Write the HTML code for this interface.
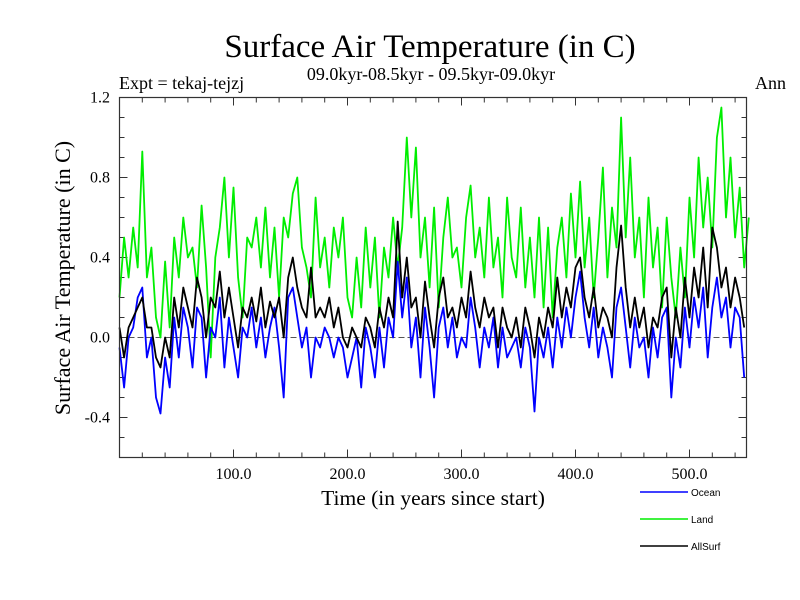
<!DOCTYPE html>
<html><head><meta charset="utf-8"><style>
body{margin:0;background:#fff;}
svg{display:block;font-family:"Liberation Serif",serif;}
</style></head><body>
<svg id="chart" width="800" height="600">
<rect width="800" height="600" fill="#fff"/>
<text x="430" y="57" font-size="33" text-anchor="middle">Surface Air Temperature (in C)</text>
<text x="431" y="80" font-size="18" text-anchor="middle">09.0kyr-08.5kyr - 09.5kyr-09.0kyr</text>
<text x="119" y="89" font-size="18">Expt = tekaj-tejzj</text>
<text x="786" y="89" font-size="18" text-anchor="end">Ann</text>
<text transform="translate(70,278) rotate(-90)" font-size="22" text-anchor="middle">Surface Air Temperature (in C)</text>
<text x="433" y="505" font-size="21.5" text-anchor="middle">Time (in years since start)</text>
<g id="axes"></g>
<g id="series"></g>
<g font-family="Liberation Sans, sans-serif" font-size="10">
<line x1="640" y1="492" x2="688" y2="492" stroke="#0000ff" stroke-width="1.5"/>
<text x="691" y="496">Ocean</text>
<line x1="640" y1="519" x2="688" y2="519" stroke="#00ee00" stroke-width="1.5"/>
<text x="691" y="523">Land</text>
<line x1="640" y1="546" x2="688" y2="546" stroke="#000" stroke-width="1.5"/>
<text x="691" y="550">AllSurf</text>
</g>
</svg>
<script>
const yearStep = 4;
const landValues = [0.2,0.5,0.3,0.55,0.35,0.93,0.3,0.45,0.1,0.0,0.38,
0.05,0.5,0.3,0.6,0.4,0.45,0.25,0.66,0.35,-0.1,0.4,
0.55,0.8,0.4,0.75,0.3,0.1,0.5,0.45,0.6,0.35,
0.65,0.3,0.55,0.2,0.6,0.5,0.72,0.8,0.45,0.35,
0.2,0.7,0.35,0.5,0.25,0.55,0.4,0.6,0.2,0.1,
0.4,0.15,0.55,0.25,0.5,0.1,0.45,0.3,0.6,0.35,
0.55,1.0,0.6,0.95,0.4,0.6,0.25,0.65,0.15,0.5,
0.7,0.4,0.45,0.25,0.6,0.76,0.4,0.55,0.3,0.7,
0.35,0.5,0.2,0.7,0.4,0.3,0.65,0.25,0.5,0.2,
0.6,0.15,0.55,0.1,0.45,0.6,0.3,0.72,0.4,0.78,
0.35,0.6,0.2,0.5,0.85,0.3,0.65,0.45,1.1,0.5,
0.9,0.4,0.6,0.2,0.7,0.35,0.55,0.15,0.6,0.3,
0.1,0.45,0.2,0.7,0.4,0.9,0.55,0.8,0.45,1.0,
1.15,0.6,0.9,0.5,0.75,0.35,0.6];
const oceanValues = [-0.05,-0.25,0.0,0.05,0.2,0.25,-0.1,0.0,-0.3,-0.38,-0.1,
-0.25,0.1,-0.1,0.15,0.05,-0.15,0.15,0.1,-0.2,0.05,
0.0,0.2,-0.15,0.1,-0.05,-0.2,0.05,0.0,0.15,-0.05,
0.1,-0.1,0.05,0.15,-0.05,-0.3,0.2,0.25,0.1,-0.05,
0.05,-0.2,0.0,-0.05,0.05,0.0,-0.1,0.0,-0.05,-0.2,
-0.1,0.0,-0.25,0.05,-0.05,-0.2,0.05,-0.15,0.1,0.0,
0.38,0.1,0.3,-0.05,0.1,-0.2,0.15,-0.05,-0.3,0.05,
0.15,-0.05,0.1,-0.1,0.0,-0.05,0.2,0.05,-0.15,0.05,
-0.05,0.1,-0.15,0.05,-0.1,-0.05,0.0,-0.15,0.05,-0.05,
-0.37,0.0,-0.1,0.05,-0.15,0.1,-0.05,0.15,0.0,0.2,
0.33,0.1,-0.05,0.15,-0.1,0.05,-0.05,-0.2,0.15,0.25,
0.05,-0.15,0.1,-0.05,0.0,-0.2,0.05,-0.1,0.1,0.15,
-0.3,0.0,-0.15,0.15,-0.05,0.2,0.05,0.25,-0.1,0.15,
0.3,0.1,0.2,-0.05,0.15,0.1,-0.2];
const allSurfValues = [0.05,-0.1,0.05,0.1,0.15,0.2,0.05,0.05,-0.1,-0.15,0.0,
-0.1,0.2,0.05,0.25,0.15,0.05,0.3,0.2,0.0,0.2,
0.15,0.33,0.1,0.25,0.1,-0.05,0.15,0.1,0.2,0.08,
0.25,0.05,0.18,0.1,0.2,0.0,0.3,0.4,0.25,0.15,
0.1,0.35,0.1,0.15,0.1,0.2,0.05,0.15,0.0,-0.05,
0.05,0.0,-0.05,0.1,0.05,-0.05,0.15,0.05,0.2,0.1,
0.58,0.2,0.4,0.15,0.2,0.0,0.28,0.1,-0.05,0.2,
0.3,0.1,0.15,0.05,0.2,0.1,0.33,0.15,0.05,0.2,
0.1,0.15,-0.05,0.15,0.05,0.0,0.1,-0.05,0.15,0.05,
-0.1,0.1,0.0,0.15,0.05,0.3,0.1,0.25,0.15,0.35,
0.4,0.2,0.1,0.25,0.05,0.15,0.1,0.0,0.35,0.56,
0.25,0.05,0.2,0.05,0.15,-0.05,0.1,0.05,0.2,0.25,
-0.1,0.15,0.0,0.3,0.1,0.35,0.2,0.45,0.15,0.55,
0.45,0.25,0.35,0.15,0.3,0.2,0.05];
const xTickValues = [100,200,300,400,500];
const xTickLabels = ["100.0","200.0","300.0","400.0","500.0"];
const yTickValues = [1.2,0.8,0.4,0.0,-0.4];
const yTickLabels = ["1.2","0.8","0.4","0.0","-0.4"];

const NS = "http://www.w3.org/2000/svg";
const L = 119.5, R = 746.5, T = 97.5, B = 457.5;
const X0 = 0, X1 = 550, Y0 = -0.6, Y1 = 1.2;
function sx(v){ return L + (v - X0) / (X1 - X0) * (R - L); }
function sy(v){ return B - (v - Y0) / (Y1 - Y0) * (B - T); }
function mk(tag, attrs, parent){ const e = document.createElementNS(NS, tag); for (const k in attrs) e.setAttribute(k, attrs[k]); parent.appendChild(e); return e; }

const axes = document.getElementById('axes');
const zl = mk('line', {x1:L, x2:R, y1:sy(0), y2:sy(0), stroke:'#555', 'stroke-width':1, 'stroke-dasharray':'6,3'}, axes);


for (let yr = 20; yr < X1; yr += 20) {
  const major = yr % 100 === 0; const len = major ? 8 : 5;
  mk('line', {x1:sx(yr), x2:sx(yr), y1:B, y2:B-len, stroke:'#333', 'stroke-width':1}, axes);
  mk('line', {x1:sx(yr), x2:sx(yr), y1:T, y2:T+len, stroke:'#333', 'stroke-width':1}, axes);
}
for (let i = -5; i <= 11; i++) {
  const v = i / 10; const major = (i % 4 === 0); const len = major ? 8 : 5;
  mk('line', {x1:L, x2:L+len, y1:sy(v), y2:sy(v), stroke:'#333', 'stroke-width':1}, axes);
  mk('line', {x1:R, x2:R-len, y1:sy(v), y2:sy(v), stroke:'#333', 'stroke-width':1}, axes);
}
xTickValues.forEach((v, i) => {
  const t = mk('text', {x:sx(v), y:479, 'font-size':16, 'text-anchor':'middle'}, axes);
  t.textContent = xTickLabels[i];
  
  
});
yTickValues.forEach((v, i) => {
  const t = mk('text', {x:110, y:sy(v)+5, 'font-size':16, 'text-anchor':'end'}, axes);
  t.textContent = yTickLabels[i];
  
  
});

const series = document.getElementById('series');
function drawLine(vals, color, name){
  const pts = vals.map((v, i) => sx(i * yearStep).toFixed(1) + ',' + sy(v).toFixed(1)).join(' ');
  const p = mk('polyline', {points:pts, fill:'none', stroke:color, 'stroke-width':1.8, 'stroke-linejoin':'round'}, series);
  
  
}
drawLine(landValues, '#00ee00', 'land-series-line');
drawLine(oceanValues, '#0000ff', 'ocean-series-line');
drawLine(allSurfValues, '#000000', 'allsurf-series-line');
const frame = mk('rect', {x:L, y:T, width:R-L, height:B-T, fill:'none', stroke:'#333', 'stroke-width':1.2}, axes.parentNode);


</script>
</body></html>
